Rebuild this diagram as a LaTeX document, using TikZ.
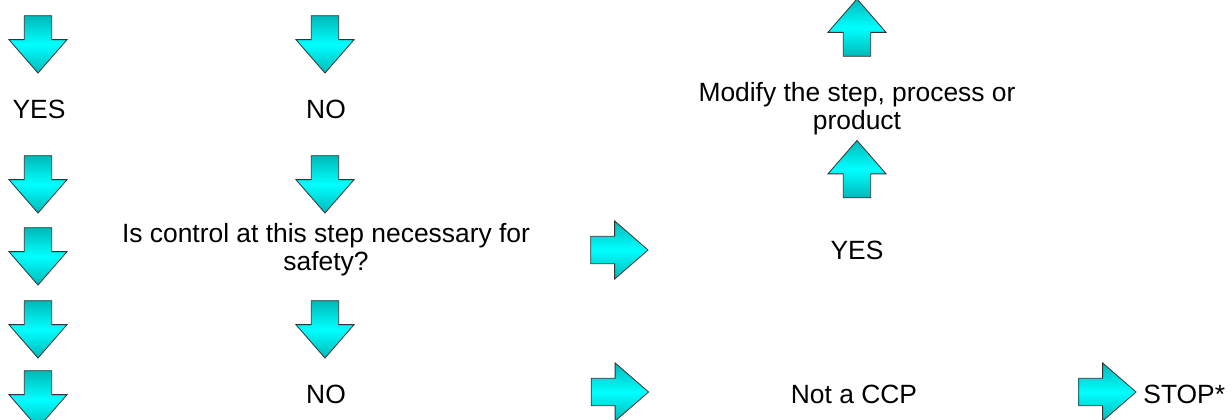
\documentclass[tikz,border=0pt]{standalone}
\usepackage{fontspec}
\setmainfont{Liberation Sans}
\usetikzlibrary{shapes.arrows}

\begin{document}
\begin{tikzpicture}[x=0.75pt,y=-0.75pt,semithick]
        \tikzstyle{blockarrow}=[single arrow, draw=black!80, line width=0.6pt,
          top color=cyan!45!teal, bottom color=cyan!45!teal, middle color=cyan,
          minimum width=43.5pt, minimum height=43pt, inner xsep=0pt, inner ysep=10pt,
          single arrow head extend=11.5pt, single arrow tip angle=82]
        \tikzstyle{arrowdown}=[blockarrow, rotate=-90]
        \tikzstyle{arrowup}=[blockarrow, rotate=90]
        \tikzstyle{arrowright}=[blockarrow]
        \tikzstyle{txt}=[font=\fontsize{19.8}{21}\selectfont, align=center, inner sep=0pt]

        \useasboundingbox (0,0) rectangle (1232,420);

        % left column
        \node[arrowdown] (d1) at (38,36.5)  {};
        \node[txt]       (yes1) at (39,109) {YES};
        \node[arrowdown] (d2) at (38,176.5) {};
        \node[arrowdown] (d3) at (38,248.5) {};
        \node[arrowdown] (d4) at (38,321.5) {};
        \node[arrowdown] (d5) at (38,391.5) {};

        % middle column
        \node[arrowdown] (n1) at (325,36.5)  {};
        \node[txt]       (no1) at (326,109)  {NO};
        \node[arrowdown] (n2) at (325,176.5) {};
        \node[txt]       (question) at (326,250) {Is control at this step necessary for\\safety?};
        \node[arrowdown] (n3) at (325,321.5) {};
        \node[txt]       (no2) at (326,394)  {NO};

        % right side
        \node[arrowup]    (u1) at (857,35.5) {};
        \node[txt]        (modify) at (857,109) {Modify the step, process or\\product};
        \node[arrowup]    (u2) at (857,177)  {};
        \node[arrowright] (r1) at (611.5,250) {};
        \node[txt]        (yes2) at (857,250) {YES};
        \node[arrowright] (r2) at (612,392)  {};
        \node[txt]        (notccp) at (854,394) {Not a CCP};
        \node[arrowright] (r3) at (1099.5,392) {};
        \node[txt, anchor=west] (stop) at (1143,394) {STOP*};
\end{tikzpicture}
\end{document}
